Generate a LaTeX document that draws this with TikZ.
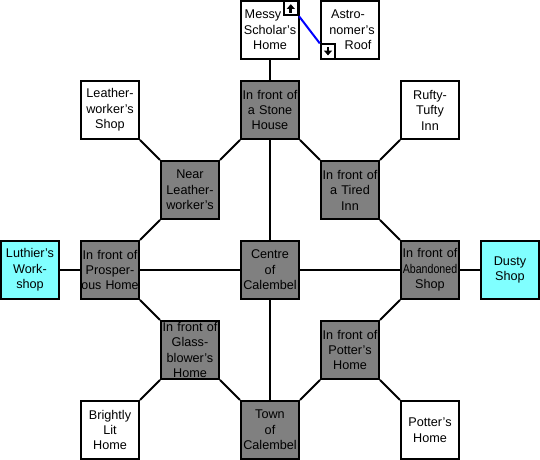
\documentclass[tikz,border=0pt]{standalone}
\usepackage{fontspec}
\setmainfont{Liberation Sans}
\usetikzlibrary{arrows.meta}
\definecolor{roomgrey}{RGB}{128,128,128}
\definecolor{roomcyan}{RGB}{128,255,255}
\definecolor{stairblue}{RGB}{0,0,255}
\newcommand{\tightline}[2]{\makebox[0pt]{\scalebox{#1}[1]{#2}}}
\tikzset{
  room/.style={
    rectangle,
    line width=0.05cm,
    draw=black,
    fill=white,
    minimum size=1.45cm,
    inner sep=0pt,
    text width=1.45cm,
    align=center,
    font=\fontsize{9}{11}\selectfont
  },
  street/.style={room, fill=roomgrey},
  exit/.style={room, fill=roomcyan},
  stairbox/.style={
    rectangle,
    line width=0.05cm,
    draw=black,
    fill=white,
    minimum size=0.36cm,
    inner sep=0pt
  },
  road/.style={line width=0.05cm, black},
  stairarrow/.style={line width=0.07cm, black, -{Stealth[width=0.2cm,length=0.12cm,inset=0pt]}}
}

\begin{document}
\begin{tikzpicture}
  \useasboundingbox (0,0) rectangle (13.5,11.5);
  \node[room] (scholar) at (6.75,10.75) {Messy\rule{0.35cm}{0pt}\\Scholar's\\Home};
  \node[room] (roof) at (8.75,10.75) {Astro-\rule{0.1cm}{0pt}\\\hspace*{0.1cm}nomer's\\\hspace*{0.4cm}Roof};
  \node[room] (leather) at (2.75,8.75) {Leather-\\worker's\\Shop};
  \node[room] (rufty) at (10.75,8.75) {Rufty-\\Tufty\\Inn};
  \node[room] (bright) at (2.75,0.75) {Brightly\\Lit\\Home};
  \node[room] (potter) at (10.75,0.75) {Potter's\\Home};
  \node[exit] (luthier) at (0.75,4.75) {Luthier's\\Work-\\shop};
  \node[exit] (dusty) at (12.75,4.75) {Dusty\\Shop};

  \node[street] (stone) at (6.75,8.75) {In front of\\a Stone\\House};
  \node[street] (nearl) at (4.75,6.75) {Near\\Leather-\\worker's};
  \node[street] (tired) at (8.75,6.75) {In front of\\a Tired\\Inn};
  \node[street] (prosper) at (2.75,4.75) {In front of\\Prosper-\\\tightline{0.98}{ous Home}};
  \node[street] (centre) at (6.75,4.75) {Centre\\of\\Calembel};
  \node[street] (abandon) at (10.75,4.75) {In front of\\\tightline{0.84}{Abandoned}\\Shop};
  \node[street] (glass) at (4.75,2.75) {In front of\\Glass-\\blower's\\Home};
  \node[street] (pothome) at (8.75,2.75) {In front of\\Potter's\\Home};
  \node[street] (town) at (6.75,0.75) {Town\\of\\Calembel};

  \draw[road] (scholar) -- (stone);
  \draw[road] (stone) -- (centre);
  \draw[road] (centre) -- (town);
  \draw[road] (luthier) -- (prosper);
  \draw[road] (prosper) -- (centre);
  \draw[road] (centre) -- (abandon);
  \draw[road] (abandon) -- (dusty);
  \draw[road] (leather.south east) -- (nearl.north west);
  \draw[road] (rufty.south west) -- (tired.north east);
  \draw[road] (bright.north east) -- (glass.south west);
  \draw[road] (potter.north west) -- (pothome.south east);
  \draw[road] (stone.south west) -- (nearl.north east);
  \draw[road] (stone.south east) -- (tired.north west);
  \draw[road] (nearl.south west) -- (prosper.north east);
  \draw[road] (tired.south east) -- (abandon.north west);
  \draw[road] (prosper.south east) -- (glass.north west);
  \draw[road] (abandon.south west) -- (pothome.north east);
  \draw[road] (glass.south east) -- (town.north west);
  \draw[road] (pothome.south west) -- (town.north east);

  \node[stairbox] (up) at (7.27,11.3) {};
  \node[stairbox] (down) at (8.2,10.21) {};
  \draw[stairblue, line width=0.05cm] (up.south east) -- (down.north west);
  \draw[stairarrow] (up.south) ++(0,0.09) -- ++(0,0.21);
  \draw[stairarrow] (down.north) ++(0,-0.09) -- ++(0,-0.21);
\end{tikzpicture}
\end{document}
